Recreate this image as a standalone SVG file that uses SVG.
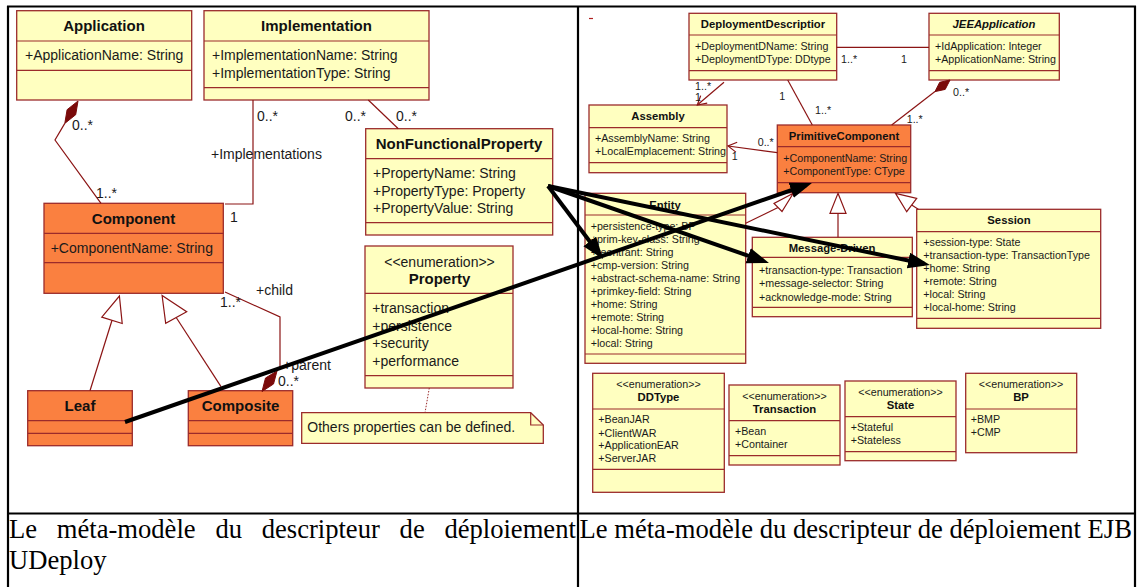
<svg xmlns="http://www.w3.org/2000/svg" width="1137" height="587" viewBox="0 0 1137 587">
<defs>
<style>
.bx{fill:#FFFFC0;stroke:#9B2B2B;stroke-width:1.3}
.or{fill:#FA8040;stroke:#9B2B2B;stroke-width:1.3}
.dv{stroke:#9B2B2B;stroke-width:1.2;fill:none}
.cn{stroke:#8B1414;stroke-width:1.2;fill:none}
.dm{fill:#7A0A0A;stroke:#7A0A0A;stroke-width:1}
.tri{fill:#FFFFFF;stroke:#8B1414;stroke-width:1.2}
.big{stroke:#000;stroke-width:4;fill:none;marker-end:url(#ah)}
.t{font-family:"Liberation Sans",Arial,sans-serif;font-size:14px;fill:#1A1A1A}
.tb{font-family:"Liberation Sans",Arial,sans-serif;font-size:15px;font-weight:bold;fill:#111;text-anchor:middle}
.tc{text-anchor:middle}
.s{font-family:"Liberation Sans",Arial,sans-serif;font-size:10.7px;fill:#1A1A1A}
.sb{font-family:"Liberation Sans",Arial,sans-serif;font-size:11.3px;font-weight:bold;fill:#111;text-anchor:middle}
.cap{font-family:"Liberation Serif","Times New Roman",serif;font-size:26.6px;fill:#000}
.frame{stroke:#000;stroke-width:2.2;fill:none}
</style>
<marker id="ah" markerUnits="userSpaceOnUse" markerWidth="24" markerHeight="18" refX="16" refY="8" orient="auto">
<path d="M0,0 L22,8 L0,16 z" fill="#000"/>
</marker>
</defs>
<rect width="1137" height="587" fill="#fff"/>

<g id="table">
<line class="frame" x1="7" y1="6.5" x2="1136" y2="6.5"/>
<line class="frame" x1="8" y1="6" x2="8" y2="587"/>
<line class="frame" x1="578" y1="6" x2="578" y2="587"/>
<line class="frame" x1="1135" y1="6" x2="1135" y2="587"/>
<line class="frame" x1="7" y1="513.5" x2="1136" y2="513.5"/>
</g>

<g id="captions">
<text class="cap" y="538"><tspan x="9">Le</tspan><tspan x="56.8">méta-modèle</tspan><tspan x="215.4">du</tspan><tspan x="261.7">descripteur</tspan><tspan x="399.6">de</tspan><tspan x="444.4">déploiement</tspan></text>
<text class="cap" x="9" y="569">UDeploy</text>
<text class="cap" x="579.5" y="538">Le méta-modèle du descripteur de déploiement EJB</text>
</g>

<!-- LEFT DIAGRAM -->
<g id="Application">
<rect class="bx" x="16.7" y="10.7" width="175" height="89.3"/>
<line class="dv" x1="16.7" y1="41" x2="191.7" y2="41"/>
<line class="dv" x1="16.7" y1="70.3" x2="191.7" y2="70.3"/>
<text class="tb" x="104" y="31">Application</text>
<text class="t" x="25" y="60">+ApplicationName: String</text>
</g>

<g id="Implementation">
<rect class="bx" x="204" y="10.7" width="225" height="89.3"/>
<line class="dv" x1="204" y1="41" x2="429" y2="41"/>
<line class="dv" x1="204" y1="87.7" x2="429" y2="87.7"/>
<text class="tb" x="316.5" y="31">Implementation</text>
<text class="t" x="212" y="60">+ImplementationName: String</text>
<text class="t" x="212" y="77.5">+ImplementationType: String</text>
</g>

<g id="NonFunctionalProperty">
<rect class="bx" x="365.7" y="128.7" width="187" height="106.3"/>
<line class="dv" x1="365.7" y1="158.7" x2="552.7" y2="158.7"/>
<line class="dv" x1="365.7" y1="222.7" x2="552.7" y2="222.7"/>
<text class="tb" x="459" y="149">NonFunctionalProperty</text>
<text class="t" x="373" y="178">+PropertyName: String</text>
<text class="t" x="373" y="196">+PropertyType: Property</text>
<text class="t" x="373" y="213">+PropertyValue: String</text>
</g>

<g id="Component">
<rect class="or" x="44" y="203.3" width="179.3" height="90"/>
<line class="dv" x1="44" y1="233.3" x2="223.3" y2="233.3"/>
<line class="dv" x1="44" y1="262.7" x2="223.3" y2="262.7"/>
<text class="tb" x="133.5" y="224">Component</text>
<text class="t" x="50.7" y="253">+ComponentName: String</text>
</g>

<g id="Property">
<rect class="bx" x="365" y="246" width="148" height="142"/>
<line class="dv" x1="365" y1="293.3" x2="513" y2="293.3"/>
<line class="dv" x1="365" y1="375.7" x2="513" y2="375.7"/>
<text class="t tc" x="439.5" y="267">&lt;&lt;enumeration&gt;&gt;</text>
<text class="tb" x="439.5" y="284">Property</text>
<text class="t" x="372.3" y="313">+transaction</text>
<text class="t" x="372.3" y="331">+persistence</text>
<text class="t" x="372.3" y="348">+security</text>
<text class="t" x="372.3" y="365.5">+performance</text>
</g>

<g id="Leaf">
<rect class="or" x="27.7" y="390.7" width="104.6" height="55"/>
<line class="dv" x1="27.7" y1="420.7" x2="132.3" y2="420.7"/>
<line class="dv" x1="27.7" y1="433.3" x2="132.3" y2="433.3"/>
<text class="tb" x="80" y="410.5">Leaf</text>
</g>

<g id="Composite">
<rect class="or" x="188.3" y="390.7" width="104.4" height="55"/>
<line class="dv" x1="188.3" y1="420.7" x2="292.7" y2="420.7"/>
<line class="dv" x1="188.3" y1="433.3" x2="292.7" y2="433.3"/>
<text class="tb" x="240.5" y="410.5">Composite</text>
</g>

<g id="Note">
<polygon class="bx" points="301.7,412.7 530.7,412.7 543.3,425 543.3,443.3 301.7,443.3"/>
<polyline class="dv" points="530.7,412.7 530.7,425 543.3,425"/>
<text class="t" x="307.3" y="431.5">Others properties can be defined.</text>
</g>

<!-- RIGHT DIAGRAM -->
<g id="DeploymentDescriptior">
<rect class="bx" x="689" y="13.3" width="147.7" height="66.7"/>
<line class="dv" x1="689" y1="35" x2="836.7" y2="35"/>
<line class="dv" x1="689" y1="70.7" x2="836.7" y2="70.7"/>
<text class="sb" x="763" y="28.3">DeploymentDescriptior</text>
<text class="s" x="695" y="50">+DeploymentDName: String</text>
<text class="s" x="695" y="63.3">+DeploymentDType: DDtype</text>
</g>

<g id="JEEApplication">
<rect class="bx" x="929" y="13.3" width="130.3" height="66.7"/>
<line class="dv" x1="929" y1="35" x2="1059.3" y2="35"/>
<line class="dv" x1="929" y1="70.7" x2="1059.3" y2="70.7"/>
<text class="sb" x="994" y="28.3" font-style="italic">JEEApplication</text>
<text class="s" x="935" y="50">+IdApplication: Integer</text>
<text class="s" x="935" y="63.3">+ApplicationName: String</text>
</g>

<g id="Assembly">
<rect class="bx" x="589" y="105" width="138" height="67.7"/>
<line class="dv" x1="589" y1="127.7" x2="727" y2="127.7"/>
<line class="dv" x1="589" y1="162.7" x2="727" y2="162.7"/>
<text class="sb" x="658" y="120">Assembly</text>
<text class="s" x="595" y="141.5">+AssemblyName: String</text>
<text class="s" x="595" y="155">+LocalEmplacement: String</text>
</g>

<g id="PrimitiveComponent">
<rect class="or" x="777.3" y="125" width="133.4" height="67.7"/>
<line class="dv" x1="777.3" y1="146.7" x2="910.7" y2="146.7"/>
<line class="dv" x1="777.3" y1="182.7" x2="910.7" y2="182.7"/>
<text class="sb" x="844" y="140">PrimitiveComponent</text>
<text class="s" x="783.3" y="161.5">+ComponentName: String</text>
<text class="s" x="783.3" y="175">+ComponentType: CType</text>
</g>

<g id="Entity">
<rect class="bx" x="585" y="193.3" width="160.7" height="170"/>
<line class="dv" x1="585" y1="215" x2="745.7" y2="215"/>
<line class="dv" x1="585" y1="354" x2="745.7" y2="354"/>
<text class="sb" x="665" y="209">Entity</text>
<text class="s" x="590.7" y="229.5">+persistence-type: BP</text>
<text class="s" x="590.7" y="242.6">+prim-key-class: String</text>
<text class="s" x="590.7" y="255.6">+reentrant: String</text>
<text class="s" x="590.7" y="268.7">+cmp-version: String</text>
<text class="s" x="590.7" y="281.8">+abstract-schema-name: String</text>
<text class="s" x="590.7" y="294.8">+primkey-field: String</text>
<text class="s" x="590.7" y="307.9">+home: String</text>
<text class="s" x="590.7" y="321">+remote: String</text>
<text class="s" x="590.7" y="334">+local-home: String</text>
<text class="s" x="590.7" y="347.1">+local: String</text>
</g>

<g id="MessageDriven">
<rect class="bx" x="752.3" y="237.3" width="160" height="79.4"/>
<line class="dv" x1="752.3" y1="257.3" x2="912.3" y2="257.3"/>
<line class="dv" x1="752.3" y1="307.3" x2="912.3" y2="307.3"/>
<text class="sb" x="832" y="252">Message-Driven</text>
<text class="s" x="759" y="273.8">+transaction-type: Transaction</text>
<text class="s" x="759" y="287.1">+message-selector: String</text>
<text class="s" x="759" y="300.5">+acknowledge-mode: String</text>
</g>

<g id="Session">
<rect class="bx" x="916.7" y="209.3" width="184" height="119"/>
<line class="dv" x1="916.7" y1="231.7" x2="1100.7" y2="231.7"/>
<line class="dv" x1="916.7" y1="318.3" x2="1100.7" y2="318.3"/>
<text class="sb" x="1009" y="224">Session</text>
<text class="s" x="923.3" y="246.1">+session-type: State</text>
<text class="s" x="923.3" y="259.1">+transaction-type: TransactionType</text>
<text class="s" x="923.3" y="272.1">+home: String</text>
<text class="s" x="923.3" y="284.8">+remote: String</text>
<text class="s" x="923.3" y="297.8">+local: String</text>
<text class="s" x="923.3" y="311.1">+local-home: String</text>
</g>

<g id="DDType">
<rect class="bx" x="592.7" y="373.3" width="131.6" height="119"/>
<line class="dv" x1="592.7" y1="409" x2="724.3" y2="409"/>
<line class="dv" x1="592.7" y1="469.3" x2="724.3" y2="469.3"/>
<text class="s tc" x="658.5" y="388">&lt;&lt;enumeration&gt;&gt;</text>
<text class="sb" x="658.5" y="401">DDType</text>
<text class="s" x="598.3" y="423.1">+BeanJAR</text>
<text class="s" x="598.3" y="436.5">+ClientWAR</text>
<text class="s" x="598.3" y="449.1">+ApplicationEAR</text>
<text class="s" x="598.3" y="462.1">+ServerJAR</text>
</g>

<g id="Transaction">
<rect class="bx" x="729" y="385" width="111" height="80"/>
<line class="dv" x1="729" y1="420.7" x2="840" y2="420.7"/>
<line class="dv" x1="729" y1="455.7" x2="840" y2="455.7"/>
<text class="s tc" x="784.5" y="400">&lt;&lt;enumeration&gt;&gt;</text>
<text class="sb" x="784.5" y="413">Transaction</text>
<text class="s" x="735" y="434.5">+Bean</text>
<text class="s" x="735" y="447.8">+Container</text>
</g>

<g id="State">
<rect class="bx" x="845" y="381" width="111" height="79.7"/>
<line class="dv" x1="845" y1="416.7" x2="956" y2="416.7"/>
<line class="dv" x1="845" y1="451.7" x2="956" y2="451.7"/>
<text class="s tc" x="900.5" y="396">&lt;&lt;enumeration&gt;&gt;</text>
<text class="sb" x="900.5" y="409">State</text>
<text class="s" x="850.7" y="431.1">+Stateful</text>
<text class="s" x="850.7" y="443.8">+Stateless</text>
</g>

<g id="BP">
<rect class="bx" x="965.7" y="373.3" width="111" height="79.4"/>
<line class="dv" x1="965.7" y1="409" x2="1076.7" y2="409"/>
<text class="s tc" x="1021" y="388">&lt;&lt;enumeration&gt;&gt;</text>
<text class="sb" x="1021" y="401">BP</text>
<text class="s" x="970.7" y="422.8">+BMP</text>
<text class="s" x="970.7" y="435.5">+CMP</text>
</g>

<g id="connectors">
<!-- left -->
<polyline class="cn" points="64.8,123.4 55,140 101,203.3"/>
<polygon class="dm" points="78,101 75.7,114.7 64.8,123.4 67.1,109.7"/>
<text class="t" x="72" y="130">0..*</text>
<text class="t" x="96" y="198">1..*</text>

<polyline class="cn" points="253,100 253,204 225,204"/>
<text class="t" x="257" y="121">0..*</text>
<text class="t" x="211" y="159">+Implementations</text>
<text class="t" x="230" y="222">1</text>

<line class="cn" x1="368.3" y1="100" x2="398.3" y2="128.7"/>
<text class="t" x="345" y="121">0..*</text>
<text class="t" x="396" y="121">0..*</text>

<line class="cn" x1="90" y1="390.7" x2="112" y2="320.3"/>
<polygon class="tri" points="119.4,296 122.2,323.5 101.8,317.1"/>
<line class="cn" x1="221" y1="386.7" x2="176.2" y2="317.5"/>
<polygon class="tri" points="162.1,295.5 165.7,323.3 186.7,311.7"/>

<polyline class="cn" points="225,292 280,317 280,367 277,371"/>
<polygon class="dm" points="262,391.5 273.5,384 277,371 265.5,378"/>
<text class="t" x="256" y="295">+child</text>
<text class="t" x="220" y="307">1..*</text>
<text class="t" x="283" y="370">+parent</text>
<text class="t" x="278" y="386">0..*</text>

<line x1="429.3" y1="388" x2="425" y2="412.7" stroke="#9B2B2B" stroke-width="1" stroke-dasharray="1.5,1.5"/>

<!-- right -->
<line x1="589" y1="18.5" x2="593" y2="18.5" stroke="#B02020" stroke-width="1.2"/>
<line class="cn" x1="836.7" y1="47.3" x2="929" y2="47.3"/>
<text class="s" x="841" y="63.3">1..*</text>
<text class="s" x="901" y="62.5">1</text>

<line class="cn" x1="935" y1="91.6" x2="891.7" y2="125"/>
<polygon class="dm" points="950,80 945.2,89.4 935,91.6 939.7,82.3"/>
<text class="s" x="953" y="95.5">0..*</text>
<text class="s" x="906.7" y="123">1..*</text>

<line class="cn" x1="724" y1="82.3" x2="697.3" y2="105"/>
<polyline class="cn" points="707.2,103.2 697.3,105 700.7,95.6"/>
<text class="s" x="695" y="90">1..*</text>
<text class="s" x="695" y="101">1</text>

<line class="cn" x1="787.7" y1="80" x2="812.3" y2="125"/>
<text class="s" x="779.3" y="99.5">1</text>
<text class="s" x="815" y="114">1..*</text>

<line class="cn" x1="777.3" y1="152.7" x2="728" y2="146"/>
<polyline class="cn" points="735.9,152.1 728,146 737.2,142.2"/>
<text class="s" x="757.7" y="145.5">0..*</text>
<text class="s" x="731.7" y="160">1</text>

<line class="cn" x1="745.7" y1="223.3" x2="778" y2="207.5"/>
<polygon class="tri" points="793.3,193.3 782,211.5 774,203.5"/>
<line class="cn" x1="838" y1="213.3" x2="838" y2="237.3"/>
<polygon class="tri" points="838,193.3 846,213.3 830,213.3"/>
<line class="cn" x1="911.7" y1="205" x2="918.3" y2="209.3"/>
<polygon class="tri" points="895.5,193.3 916.7,198.3 906.7,211.7"/>

<!-- thick black overlay arrows -->
<line class="big" x1="125" y1="422" x2="806.3" y2="185"/>
<line class="big" x1="548" y1="186" x2="599.4" y2="254.2"/>
<line class="big" x1="548" y1="186" x2="763.3" y2="261"/>
<line class="big" x1="548" y1="186" x2="924.1" y2="263.8"/>
</g>
</svg>
